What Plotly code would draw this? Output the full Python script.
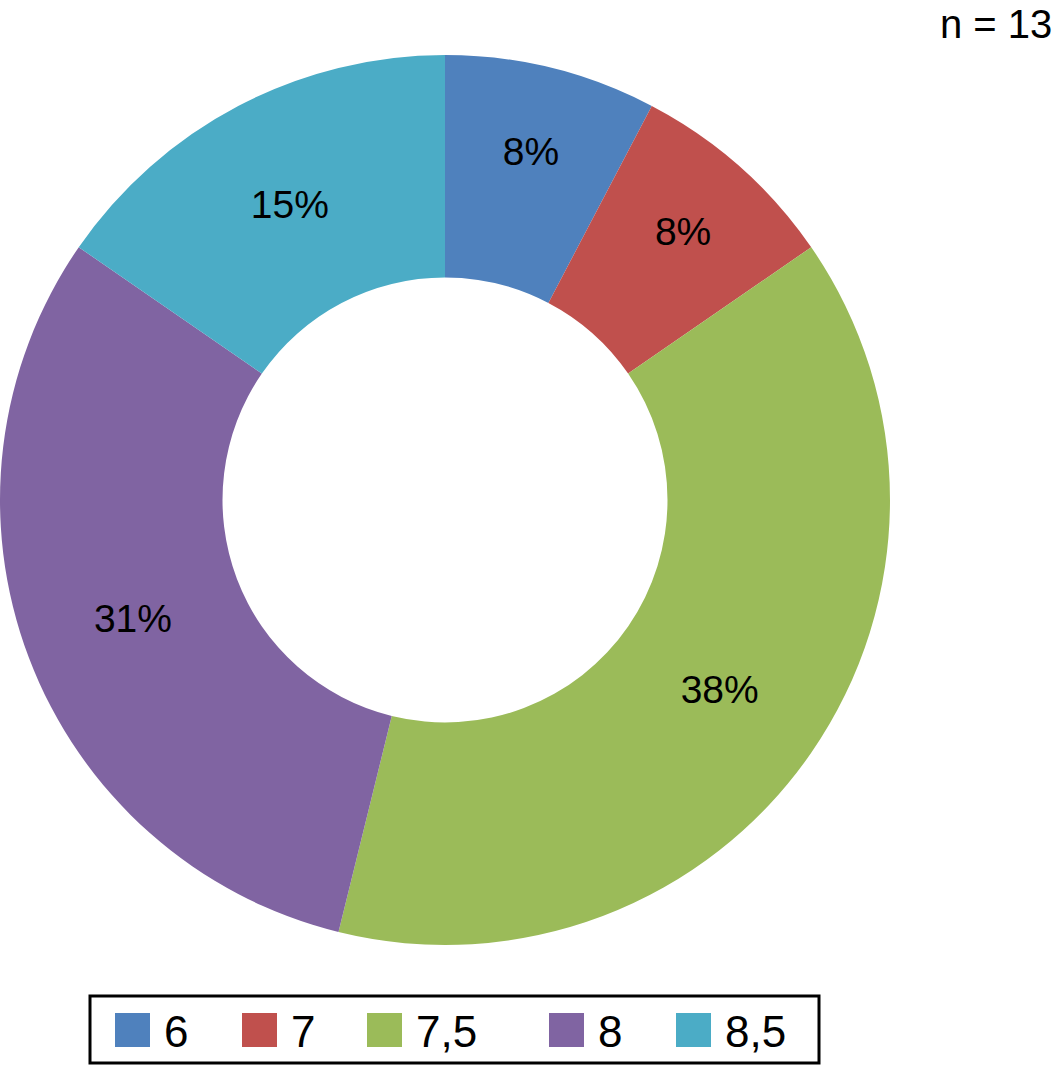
import plotly.graph_objects as go

categories = ["6", "7", "7,5", "8", "8,5"]
counts = [1, 1, 5, 4, 2]
colors = ["#4F81BD", "#C0504D", "#9BBB59", "#8064A2", "#4BACC6"]
n_label = "n = 13"

W, H = 1054, 1066
FONT = "Liberation Sans, Arial, sans-serif"

# legend layout (pixels from top-left)
legend_box = (90, 996, 819, 1063)
legend_sq_x = [115, 242, 367, 549, 676]
sq_w, sq_y0, sq_y1 = 35, 1013, 1047
text_gap = 47


def px(x):
    return x / W


def py(y):
    return 1 - y / H


fig = go.Figure(go.Pie(
    labels=categories,
    values=counts,
    hole=0.5,
    sort=False,
    direction="clockwise",
    rotation=0,
    marker=dict(colors=colors, line=dict(width=0)),
    texttemplate="%{percent:.0%}",
    textposition="inside",
    insidetextorientation="horizontal",
    textfont=dict(family=FONT, size=39, color="black"),
    domain=dict(x=[0, 890 / W], y=[py(945), py(55)]),
    hoverinfo="label+value+percent",
    showlegend=False,
))

shapes = [dict(
    type="rect", xref="paper", yref="paper",
    x0=px(legend_box[0]), x1=px(legend_box[2]),
    y0=py(legend_box[3]), y1=py(legend_box[1]),
    line=dict(color="black", width=3), fillcolor="rgba(0,0,0,0)",
)]
annotations = []
for cat, col, sx in zip(categories, colors, legend_sq_x):
    shapes.append(dict(
        type="rect", xref="paper", yref="paper",
        x0=px(sx), x1=px(sx + sq_w), y0=py(sq_y1), y1=py(sq_y0),
        line=dict(width=0), fillcolor=col,
    ))
    annotations.append(dict(
        text=cat, x=px(sx + text_gap), y=py((sq_y0 + sq_y1) / 2 + 1),
        xref="paper", yref="paper", xanchor="left", yanchor="middle",
        showarrow=False, font=dict(family=FONT, size=44, color="black"),
    ))

annotations.append(dict(
    text=n_label, x=1, y=1, xref="paper", yref="paper",
    xanchor="right", yanchor="top", showarrow=False,
    font=dict(family=FONT, size=40, color="black"),
))

fig.update_layout(
    width=W, height=H,
    margin=dict(l=0, r=0, t=0, b=0),
    paper_bgcolor="white",
    plot_bgcolor="white",
    font=dict(family=FONT, color="black"),
    showlegend=False,
    shapes=shapes,
    annotations=annotations,
)

fig.write_html(
    "out.html",
    config={"displayModeBar": False},
    post_script="document.body.style.margin='0';document.body.style.overflow='hidden';",
)
